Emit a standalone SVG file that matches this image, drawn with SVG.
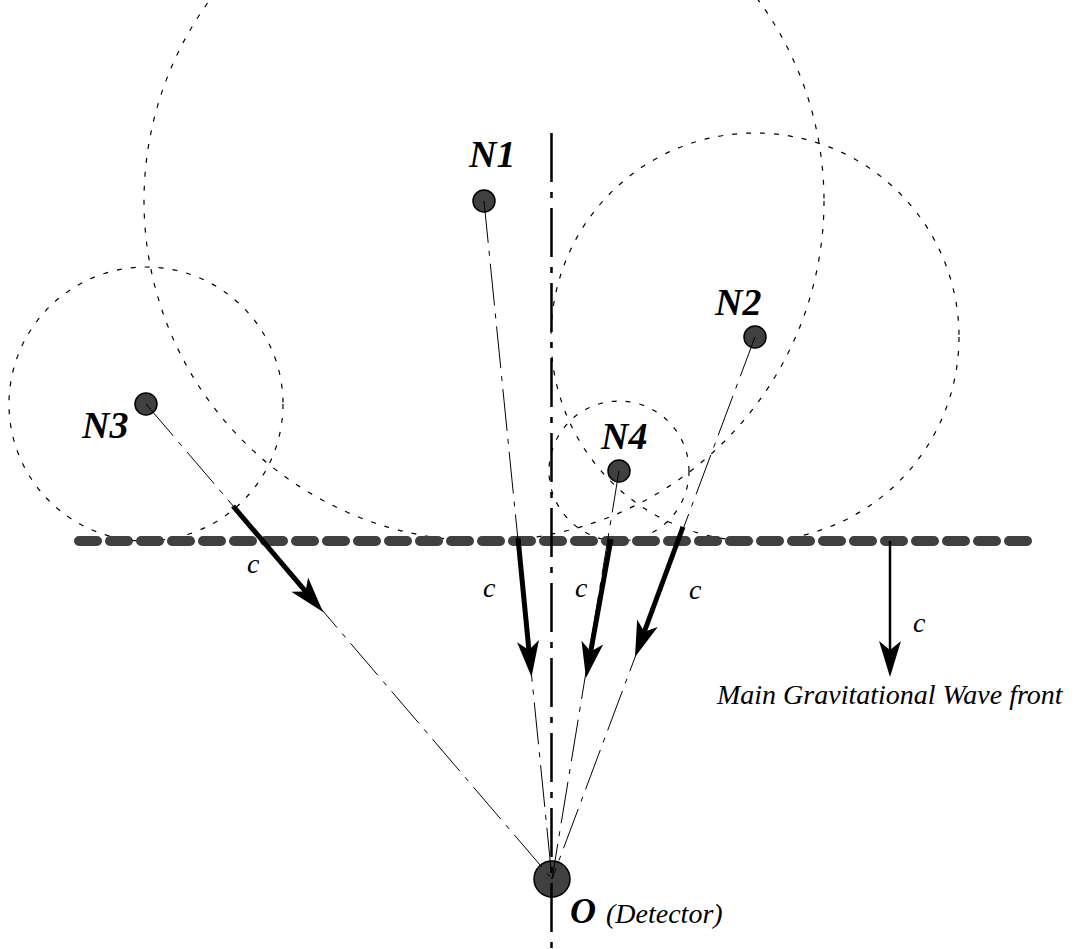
<svg xmlns="http://www.w3.org/2000/svg" width="1083" height="949" viewBox="0 0 1083 949">
<style>
.bg{fill:#ffffff}
.wave{fill:none;stroke:#000;stroke-width:1.2;stroke-dasharray:5 9}
.front{fill:none;stroke:#404040;stroke-width:10;stroke-linecap:round;stroke-dasharray:18 13}
.axis{fill:none;stroke:#000;stroke-width:2.5;stroke-dasharray:49 10 6 10}
.ray{fill:none;stroke:#000;stroke-width:1;stroke-dasharray:42 8 5 8}
.thick{fill:none;stroke:#000;stroke-width:5;marker-end:url(#ah)}
.thin{fill:none;stroke:#000;stroke-width:2.5;marker-end:url(#ah)}
.node{fill:#404040;stroke:#000;stroke-width:1.5}
.lbl{font-family:"Liberation Serif","Times New Roman",serif;font-style:italic;font-weight:bold;font-size:38px;fill:#000}
.c{font-family:"Liberation Serif","Times New Roman",serif;font-style:italic;font-size:28px;fill:#000}
</style>
<defs>
<marker id="ah" markerUnits="userSpaceOnUse" viewBox="-38 -12 40 24" markerWidth="40" markerHeight="24" refX="-24" refY="0" orient="auto">
<path d="M0,0 L-36,-11 L-27,0 L-36,11 Z" fill="#000"/>
</marker>
</defs>
<rect class="bg" x="0" y="0" width="1083" height="949"/>
<g id="wavefronts">
<circle class="wave" cx="484" cy="201" r="340"/>
<circle class="wave" cx="755" cy="337" r="204"/>
<circle class="wave" cx="146" cy="404" r="137"/>
<circle class="wave" cx="619" cy="471" r="70"/>
</g>
<g id="main-front">
<line class="front" x1="79" y1="541" x2="1027" y2="541"/>
</g>
<g id="N1"><circle class="node" cx="484" cy="201" r="11"/><text class="lbl" x="469" y="167">N1</text></g>
<g id="N2"><circle class="node" cx="755" cy="337" r="11"/><text class="lbl" x="715" y="315">N2</text></g>
<g id="N3"><circle class="node" cx="146" cy="404" r="11"/><text class="lbl" x="82" y="438">N3</text></g>
<g id="N4"><circle class="node" cx="619" cy="471" r="11"/><text class="lbl" x="601" y="449">N4</text></g>
<g id="O"><circle class="node" cx="552" cy="879" r="18"/>
<text x="570" y="923" font-family="Liberation Serif, Times New Roman, serif" font-style="italic" font-weight="bold" font-size="36">O</text>
<text x="606" y="923" font-family="Liberation Serif, Times New Roman, serif" font-style="italic" font-size="28">(Detector)</text></g>
<g id="connectors">
<line class="axis" x1="551.5" y1="133" x2="551.5" y2="949"/>
<line class="ray" x1="484" y1="201" x2="552" y2="879"/>
<line class="ray" x1="755" y1="337" x2="552" y2="879"/>
<line class="ray" x1="146" y1="404" x2="552" y2="879"/>
<line class="ray" x1="619" y1="471" x2="552" y2="879"/>
<line class="thick" x1="233" y1="506" x2="307.5" y2="593.7"/>
<line class="thick" x1="518" y1="538" x2="529.2" y2="653.1"/>
<line class="thick" x1="611" y1="539" x2="590.2" y2="654.4"/>
<line class="thick" x1="683" y1="527" x2="643.3" y2="634.5"/>
<line class="thin" x1="890" y1="541" x2="890" y2="653"/>
</g>
<g id="labels">
<text class="c" x="247" y="573">c</text>
<text class="c" x="483" y="597">c</text>
<text class="c" x="575" y="597">c</text>
<text class="c" x="689" y="599">c</text>
<text class="c" x="913" y="632">c</text>
<text class="c" x="717" y="704" font-size="30">Main Gravitational Wave front</text>
</g>
</svg>
